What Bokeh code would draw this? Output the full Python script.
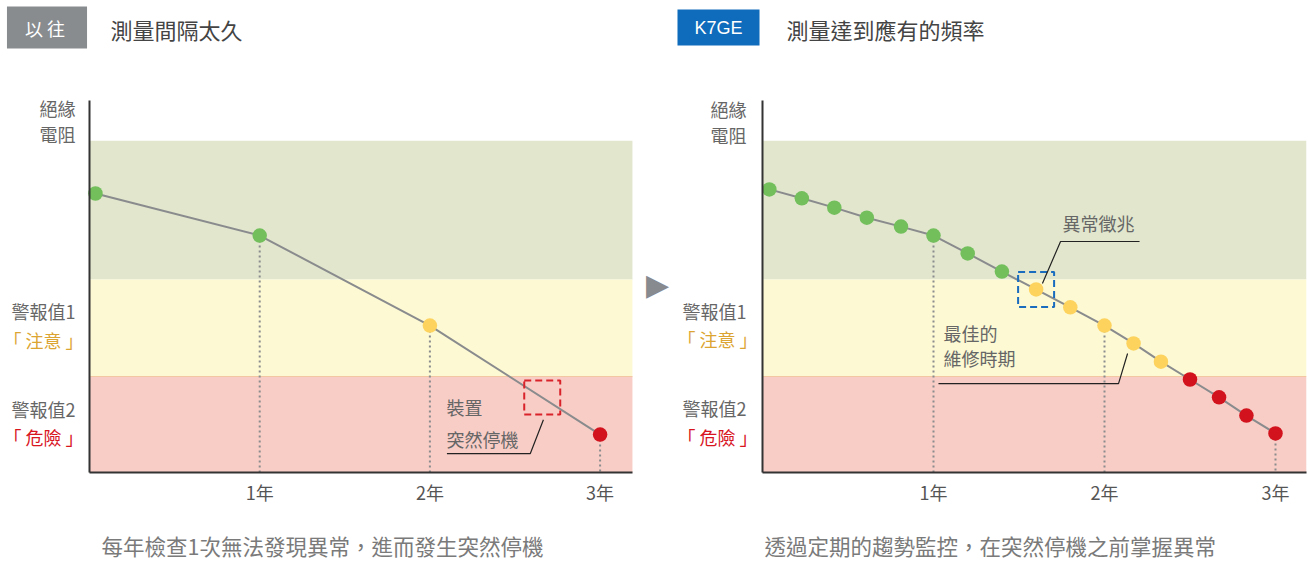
from bokeh.plotting import figure
from bokeh.models import Range1d, BoxAnnotation, Label, FixedTicker, ColumnDataSource
from bokeh.layouts import row
from bokeh.embed import file_html
from bokeh.resources import INLINE
from bokeh.transform import factor_cmap
import numpy as np

# ---------------- data ----------------
year_ticks = [1, 2, 3]
year_labels = ["1年", "2年", "3年"]

zone_top = 89.2   # upper edge of the normal zone
alarm1 = 51.9     # 警報值1 「注意」
alarm2 = 25.8     # 警報值2 「危險」

status_levels = ["normal", "caution", "danger"]

old_years = [0.035, 1.0, 2.0, 3.0]
old_values = [75.0, 63.7, 39.5, 10.2]
old_status = ["normal", "normal", "caution", "danger"]

new_years = [0.04, 0.23, 0.42, 0.61, 0.81, 1.0, 1.2, 1.4, 1.6, 1.8, 2.0,
             2.17, 2.33, 2.5, 2.67, 2.83, 3.0]
new_values = [76.1, 73.7, 71.2, 68.5, 66.1, 63.7, 58.9, 54.0, 49.2, 44.4, 39.5,
              34.7, 29.8, 25.0, 20.2, 15.3, 10.5]
new_status = ["normal", "normal", "normal", "normal", "normal", "normal", "normal", "normal",
              "caution", "caution", "caution", "caution", "caution",
              "danger", "danger", "danger", "danger"]

old_badge = "以  往"
old_title = "測量間隔太久"
old_caption = "每年檢查1次無法發現異常，進而發生突然停機"
new_badge = "K7GE"
new_title = "測量達到應有的頻率"
new_caption = "透過定期的趨勢監控，在突然停機之前掌握異常"

failure_year = 2.66   # where the sudden stop happens in the old scheme
sign_index = 8        # first abnormal sign caught by K7GE

# ---------------- styles / layout ----------------
FONT = "Noto Sans CJK TC"
TXT = "#666666"
status_colors = ["#72bf5c", "#fdd35e", "#d2121c"]
BAND_G, BAND_Y, BAND_R = "#e1e6cd", "#fcf9d3", "#f8cdc6"
LINE_C = "#898b8d"
AX_C = "#333333"
H = 562
Y_TOP, Y_BOTTOM = 100, 472          # plot area top / bottom (px)
Y_SCALE = (Y_BOTTOM - Y_TOP) / 100  # px per unit


def base_fig(width, origin_px, px_per_year, x_axis_end):
    p = figure(width=width, height=H,
               x_range=Range1d(-origin_px / px_per_year, (width - origin_px) / px_per_year),
               y_range=Range1d(-(H - Y_BOTTOM) / Y_SCALE, Y_BOTTOM / Y_SCALE),
               min_border=0, toolbar_location=None, output_backend="svg")
    p.grid.visible = False
    p.outline_line_color = None
    p.xaxis.fixed_location = 0
    p.yaxis.fixed_location = 0
    p.xaxis.bounds = (0, x_axis_end)
    p.yaxis.bounds = (0, 100)
    p.xaxis.ticker = FixedTicker(ticks=year_ticks)
    p.xaxis.major_label_overrides = {t: l for t, l in zip(year_ticks, year_labels)}
    p.xaxis.major_label_text_font = FONT
    p.xaxis.major_label_text_font_size = "18px"
    p.xaxis.major_label_text_color = "#555555"
    p.xaxis.major_label_standoff = 0
    p.yaxis.ticker = FixedTicker(ticks=[])
    p.yaxis.major_label_text_font_size = "0px"
    for ax in (p.xaxis, p.yaxis):
        ax.axis_line_color = AX_C
        ax.axis_line_width = 2
        ax.major_tick_line_color = None
        ax.minor_tick_line_color = None
    for lo, hi, c in ((alarm1, zone_top, BAND_G), (alarm2, alarm1, BAND_Y), (0, alarm2, BAND_R)):
        p.add_layout(BoxAnnotation(left=0, right=x_axis_end, bottom=lo, top=hi, fill_color=c,
                                   fill_alpha=1, line_color=None, level="underlay"))
    p.add_layout(BoxAnnotation(left=0, right=x_axis_end, bottom=alarm2 - 0.15, top=alarm2 + 0.15,
                               fill_color="#f3c7a2", fill_alpha=1, line_color=None,
                               level="underlay"))
    return p


def lbl(p, text, x, y, size="18px", color=TXT, align="left", xo=0, yo=0, font=FONT, **kw):
    p.add_layout(Label(x=x, y=y, text=text, x_offset=xo, y_offset=yo, text_font=font,
                       text_font_size=size, text_color=color, text_align=align,
                       text_baseline="middle", **kw))


def series(p, xs, ys, st):
    src = ColumnDataSource(dict(x=xs, y=ys, s=st))
    ticks = [(x, y) for x, y in zip(xs, ys) if x in year_ticks]
    p.segment(x0=[t[0] for t in ticks], y0=[t[1] for t in ticks],
              x1=[t[0] for t in ticks], y1=[0] * len(ticks),
              line_color="#8a8c8e", line_width=2, line_dash="2 3")
    p.line("x", "y", source=src, line_color=LINE_C, line_width=2)
    p.scatter("x", "y", source=src, size=14.5, line_color=None,
              fill_color=factor_cmap("s", status_colors, status_levels))


def side_labels(p, xo, xo_br, ys):
    lbl(p, "絕緣", 0, ys[0], align="right", xo=xo)
    lbl(p, "電阻", 0, ys[1], align="right", xo=xo)
    lbl(p, "警報值1", 0, ys[2], align="right", xo=xo)
    lbl(p, "「 注意 」", 0, ys[3], align="right", xo=xo_br, color="#dca533")
    lbl(p, "警報值2", 0, ys[4], align="right", xo=xo)
    lbl(p, "「 危險 」", 0, ys[5], align="right", xo=xo_br, color="#d8161f")


def header(p, badge, badge_color, badge_font, badge_xo, pad, title, title_xo, caption, cap_xo):
    p.add_layout(Label(x=0, y=100, x_offset=badge_xo, y_offset=73, text=badge,
                       text_font=badge_font, text_font_size="18px", text_color="white",
                       text_align="center", text_baseline="middle",
                       background_fill_color=badge_color,
                       padding=dict(left=pad[0], right=pad[0], top=pad[1], bottom=pad[1])))
    lbl(p, title, 0, 100, size="22px", color="#444444", xo=title_xo, yo=72)
    lbl(p, caption, 0, 0, size="21.5px", color="#7a7a7a", xo=cap_xo, yo=-73)


# ---------------- left panel ----------------
p1 = base_fig(670, 89, 170.2, 3.19)
series(p1, old_years, old_values, old_status)
side_labels(p1, -14, -6, [98.0, 90.9, 43.4, 35.6, 17.2, 9.6])
header(p1, old_badge, "#888c8f", FONT, -42.5, (18, 8), old_title, 21, old_caption, 12)
fy = float(np.interp(failure_year, old_years, old_values))
p1.rect(x=[failure_year], y=[fy], width=36, height=34, width_units="screen",
        height_units="screen", fill_color=None, line_color="#d9232b", line_width=2,
        line_dash="7 4")
p1.line(x=[2.10, 2.59, 2.667], y=[5.1, 5.1, 14.2], line_color="#222222", line_width=1.2)
lbl(p1, "裝置", 2.098, 17.5)
lbl(p1, "突然停機", 2.098, 8.9)
lbl(p1, "▶", 3.19, 50.6, size="30px", color="#878b8f", align="center", xo=25,
    font="DejaVu Sans")

# ---------------- right panel ----------------
p2 = base_fig(638, 92, 171.0, 3.18)
series(p2, new_years, new_values, new_status)
side_labels(p2, -16, -5, [97.8, 90.6, 43.3, 35.9, 17.4, 9.6])
header(p2, new_badge, "#0f6bbb", "Liberation Sans", -44, (17, 8), new_title, 24, new_caption, 2)
p2.rect(x=[new_years[sign_index]], y=[new_values[sign_index]], width=36, height=35,
        width_units="screen", height_units="screen", fill_color=None, line_color="#1a6cbf",
        line_width=2, line_dash="7 4")
p2.line(x=[2.205, 1.743, 1.637], y=[62.1, 62.1, 50.8], line_color="#222222", line_width=1.2)
lbl(p2, "異常徵兆", 1.754, 67.2)
lbl(p2, "最佳的", 1.058, 37.4)
lbl(p2, "維修時期", 1.058, 30.9)
p2.line(x=[1.029, 2.082, 2.135], y=[23.9, 23.9, 32.0], line_color="#222222", line_width=1.2)

layout = row(p1, p2)
open("out.html", "w").write(file_html(layout, INLINE))
